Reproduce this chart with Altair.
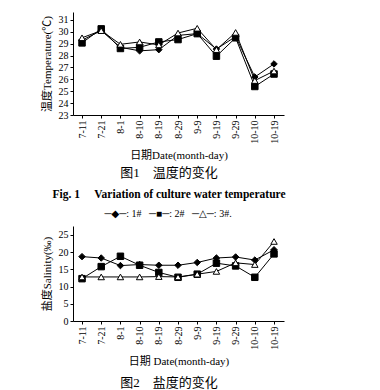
import altair as alt
import pandas as pd

dates = ["7-11", "7-21", "8-1", "8-10", "8-19", "8-29", "9-9", "9-19", "9-29", "10-10", "10-19"]
series = ["1#", "2#", "3#"]
temp_1 = [29.3, 30.1, 28.7, 28.4, 28.5, 29.7, 29.85, 28.55, 29.6, 26.2, 27.3]
temp_2 = [29.07, 30.25, 28.6, 28.7, 29.15, 29.35, 29.85, 27.95, 29.5, 25.4, 26.45]
temp_3 = [29.5, 30.1, 28.95, 29.15, 28.9, 29.9, 30.3, 28.5, 29.95, 25.9, 26.7]
sal_1 = [18.7, 18.3, 16.1, 16.4, 16.2, 16.2, 17.0, 18.3, 18.6, 17.7, 20.7]
sal_2 = [12.3, 15.8, 18.8, 16.2, 14.1, 12.7, 13.6, 16.8, 16.0, 12.7, 19.5]
sal_3 = [12.8, 12.8, 12.8, 12.8, 12.9, 12.8, 13.6, 14.4, 16.9, 16.4, 23.1]
temp_ticks = [23, 24, 25, 26, 27, 28, 29, 30, 31]
sal_ticks = [0, 5, 10, 15, 20, 25]

NB = "\u00a0"
x_title_1 = "日期Date(month-day)"
x_title_2 = "日期 Date(month-day)"
y_title_1 = "温度Temperature(℃)"
y_title_2 = "盐度Salinity(‰)"
cap_cn_1 = "图1" + NB * 4 + "温度的变化"
cap_en_1 = "Fig. 1" + NB * 5 + "Variation of culture water temperature"
legend_text = "─◆─: 1#" + NB * 3 + "─■─: 2#" + NB * 3 + "─△─: 3#."
cap_cn_2 = "图2" + NB * 4 + "盐度的变化"

FONT = "Liberation Serif, Noto Sans CJK SC"
label_expr = "[" + ",".join("'%s'" % d for d in dates) + "][datum.value]"


def long(vals_list):
    rows = []
    for s, vals in zip(series, vals_list):
        for i, (d, v) in enumerate(zip(dates, vals)):
            rows.append({"idx": i, "date": d, "series": s, "value": v})
    return pd.DataFrame(rows)


def panel(df, ydomain, yvals, ytitle, xtitle, w, h, xpad):
    x = alt.X("idx:Q",
              scale=alt.Scale(domain=[-0.47, 10.52], nice=False, zero=False),
              axis=alt.Axis(values=list(range(len(dates))), labelExpr=label_expr,
                            labelAngle=270, title=xtitle, grid=False,
                            labelFont=FONT, labelFontSize=10, titleFont=FONT,
                            titleFontSize=11, titleFontWeight="normal",
                            titlePadding=xpad, tickSize=3, labelPadding=2,
                            domainColor="black", tickColor="black",
                            labelColor="black", titleColor="black"))
    y = alt.Y("value:Q",
              scale=alt.Scale(domain=ydomain, nice=False, zero=False),
              axis=alt.Axis(values=yvals, title=ytitle, grid=False,
                            labelFont=FONT, labelFontSize=10, titleFont=FONT,
                            titleFontSize=11, titleFontWeight="normal",
                            titlePadding=6, tickSize=3, labelPadding=2,
                            domainColor="black", tickColor="black",
                            labelColor="black", titleColor="black"))
    base = alt.Chart(df).encode(x=x, y=y)
    lines = base.mark_line(color="black", strokeWidth=1).encode(detail="series:N")
    pts = base.mark_point(filled=True, opacity=1, stroke="black", strokeWidth=1, size=42).encode(
        shape=alt.Shape("series:N",
                        scale=alt.Scale(domain=series, range=["diamond", "square", "triangle-up"]),
                        legend=None),
        fill=alt.condition(alt.datum.series == "3#", alt.value("white"), alt.value("black")))
    return (lines + pts).properties(width=w, height=h)


def caption(text, xpx, ypx, size, weight="normal", font=FONT):
    return alt.Chart(pd.DataFrame({"t": [text]})).mark_text(
        font=font, fontSize=size, fontWeight=weight, color="black",
        align="center", baseline="middle").encode(
        x=alt.value(xpx), y=alt.value(ypx), text="t:N")


top = alt.layer(
    panel(long([temp_1, temp_2, temp_3]), [23, 31.67], temp_ticks, y_title_1, x_title_1, 211, 103, 6),
    caption(cap_cn_1, 96, 161, 13),
    caption(cap_en_1, 96, 183, 11.5, "bold"),
    caption(legend_text, 95, 202, 10, font="Liberation Serif, DejaVu Sans"),
)

bottom = alt.layer(
    panel(long([sal_1, sal_2, sal_3]), [0, 27.6], sal_ticks, y_title_2, x_title_2, 211, 95, 6),
    caption(cap_cn_2, 96, 157, 13),
)

chart = alt.vconcat(top, bottom, spacing=7).properties(
    padding={"left": 33, "top": 4, "right": 0, "bottom": 0}
).configure_view(stroke=None)

chart.save("out.html", embed_options={"renderer": "svg", "actions": False})
